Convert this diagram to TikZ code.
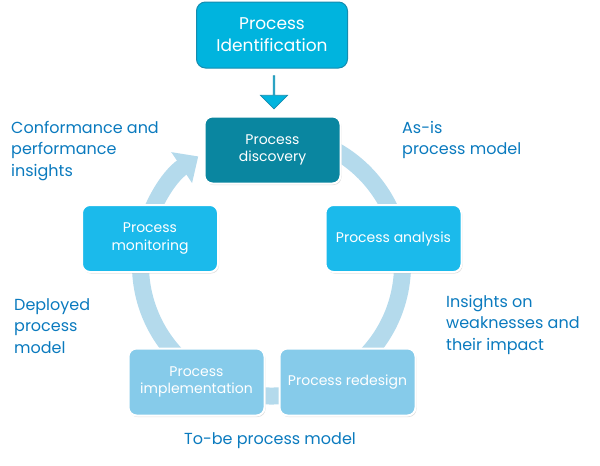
\documentclass[tikz,border=0pt]{standalone}
\usepackage{fontspec}
\setmainfont{Poppins}
\usetikzlibrary{arrows.meta,shapes.arrows,shadows}

\definecolor{identblue}{RGB}{0,180,222}
\definecolor{identline}{RGB}{20,140,175}
\definecolor{discteal}{RGB}{10,134,160}
\definecolor{stepblue}{RGB}{27,186,235}
\definecolor{lightblue}{RGB}{134,203,234}
\definecolor{ringblue}{RGB}{180,218,236}
\definecolor{labelblue}{RGB}{10,122,190}

\begin{document}
\begin{tikzpicture}[
    x=1pt, y=-1pt,
    box/.style={draw=white, line width=2pt, rounded corners=8pt, align=center,
        minimum width=136pt, minimum height=67pt, text=white,
        font=\fontsize{14}{17.5}\selectfont,
        drop shadow={opacity=0.25, shadow xshift=1pt, shadow yshift=-1.5pt}},
    label/.style={text=labelblue, align=left, anchor=north west, inner sep=0pt,
        font=\fontsize{16}{21.5}\selectfont},
    ring/.style={ringblue, line width=17pt, -{Triangle[length=20pt,width=36pt]}}
]
\useasboundingbox (0,0) rectangle (600,466);

% cycle behind the boxes
\coordinate (hub) at (271.5,265);
\draw[ring] ([shift={(-80:131)}]hub) arc[start angle=-80, end angle=236, radius=131];

\node[draw=identline, fill=identblue, line width=1pt, rounded corners=9pt, align=center,
    text=white, minimum width=151pt, minimum height=66pt,
    font=\fontsize{17}{22}\selectfont] (ident) at (272,35) {Process\\Identification};
\node[single arrow, draw=identline, fill=identblue, line width=0.8pt,
    shape border rotate=270, minimum width=27pt, minimum height=33pt,
    single arrow head extend=7.5pt, inner sep=0pt] (push) at (274,92) {};

\node[box, fill=discteal] (disc) at (272.5,150) {Process\\discovery};
\node[box, fill=stepblue] (anal) at (393.5,238.5) {Process analysis};
\node[box, fill=stepblue] (moni) at (150,238.5) {Process\\monitoring};
\node[box, fill=lightblue] (impl) at (196.5,382) {Process\\implementation};
\node[box, fill=lightblue] (redes) at (347.5,382) {Process redesign};

\node[label] (conf) at (11,121) {Conformance and\\performance\\insights};
\node[label] (asis) at (402,121) {As-is\\process model};
\node[label] (weak) at (446,295) {Insights on\\weaknesses and\\their impact};
\node[label] (depl) at (14,298) {Deployed\\process\\model};
\node[label, anchor=north] (tobe) at (270,432) {To-be process model};
\end{tikzpicture}
\end{document}
